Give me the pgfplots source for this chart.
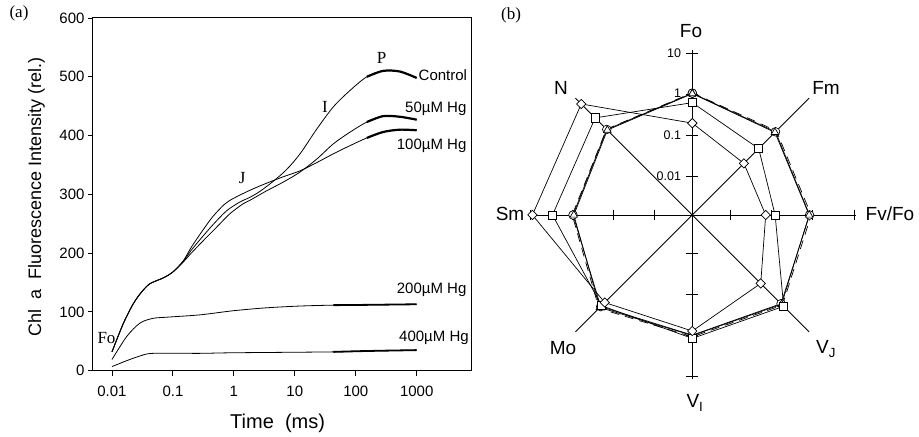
\documentclass[border=0pt]{standalone}
\usepackage{pgfplots}
\usepackage{pgfplotstable}
\pgfplotsset{compat=1.18}
\usepackage{fontspec}
\setmainfont{Liberation Sans}
\newfontfamily\seriffont{Liberation Serif}

\pgfplotstableread{
t v
0.01 32
0.0153 80
0.0224 114
0.0307 134
0.042 148
0.07 158
0.1 168
0.148 186
0.2 205
0.3 227
0.46 249
0.76 272
1.26 287
1.84 295
2.67 305
4.4 322
7.3 342
12.2 369
22.9 411
43 449
81 477
152 500
280 510
527 509
1000 498
}\ctrl

\pgfplotstableread{
t v
0.01 32
0.0153 80
0.0224 114
0.0307 134
0.042 148
0.07 158
0.1 168
0.148 185
0.2 200
0.3 219
0.52 244
0.86 267
1.42 284
1.84 290
3.45 306
6.5 321
12.2 338
22.9 360
43 386
81 406
152 423
280 433
527 432
1000 427
}\hgA

\pgfplotstableread{
t v
0.01 32
0.0153 80
0.0224 114
0.0307 134
0.042 148
0.07 158
0.1 168
0.148 187
0.2 210
0.3 237
0.45 262
0.7 283
0.98 293
1.84 307
3.45 319
6.5 330
12.2 340
22.9 354
43 369
81 383
152 396
280 406
527 410
1000 409
}\hgB

\pgfplotstableread{
t v
0.01 19
0.0174 58
0.0288 81
0.047 89
0.079 91
0.278 95
0.98 102
3.45 107
12.2 110
43 111.5
152 112
1000 113
}\hgC

\pgfplotstableread{
t v
0.01 7
0.0174 17
0.0288 25
0.047 29.5
0.278 29.5
0.98 30.5
43 32
152 33.5
1000 35
}\hgD

% radar: angle (deg), radius in decades from centre (10 at 3.935, 1 at 2.935, 0.1 at 1.935, 0.01 at 0.935)
\pgfplotstableread{
a r
90 2.97
45 2.87
0 2.86
-45 3.06
-90 2.93
-135 3.16
-180 2.91
-225 2.95
-270 2.97
}\rc

\pgfplotstableread{
a r
90 2.96
45 2.85
0 2.85
-45 3.08
-90 2.94
-135 3.19
-180 2.89
-225 2.93
-270 2.96
}\rt

\pgfplotstableread{
a r
90 2.98
45 2.90
0 2.90
-45 3.11
-90 2.97
-135 3.22
-180 2.93
-225 2.96
-270 2.98
}\rd

\pgfplotstableread{
a r
90 2.74
45 2.29
0 2.02
-45 3.15
-90 3.01
-135 3.13
-180 3.41
-225 3.35
-270 2.74
}\rs

\pgfplotstableread{
a r
90 2.24
45 1.78
0 1.79
-45 2.36
-90 2.83
-135 3.02
-180 3.90
-225 3.83
-270 2.24
}\rdi

\begin{document}
\begin{tikzpicture}[x=1bp,y=1bp]
\useasboundingbox (0,0) rectangle (919,437);

\begin{axis}[
  at={(93bp,66.3bp)}, anchor=south west,
  scale only axis, width=378.7bp, height=352.7bp,
  xmode=log, xmin=0.00488, xmax=7990, ymin=0, ymax=600,
  xtick={0.01,0.1,1,10,100,1000},
  xticklabels={0.01,0.1,1,10,100,1000},
  ytick={0,100,200,300,400,500,600},
  yticklabels={0,100,200,300,400,500,600},
  xminorticks=false, yminorticks=false,
  tick align=outside, tick pos=left,
  major tick length=5bp,
  tick style={line width=0.9bp, black},
  axis line style={line width=1bp},
  ticklabel style={font=\fontsize{15bp}{18bp}\selectfont},
  xticklabel style={yshift=-7bp},
  clip=false,
]
\addplot[black, line width=0.8bp, smooth] table[x=t,y=v] {\ctrl};
\addplot[black, line width=0.8bp, smooth] table[x=t,y=v] {\hgA};
\addplot[black, line width=0.8bp, smooth] table[x=t,y=v] {\hgB};
\addplot[black, line width=0.8bp, smooth] table[x=t,y=v] {\hgC};
\addplot[black, line width=0.8bp, smooth] table[x=t,y=v] {\hgD};
% noisy, thicker ends
\addplot[black, line width=2.2bp, smooth, skip coords between index={0}{21}] table[x=t,y=v] {\ctrl};
\addplot[black, line width=2.2bp, smooth, skip coords between index={0}{20}] table[x=t,y=v] {\hgA};
\addplot[black, line width=2.2bp, smooth, skip coords between index={0}{20}] table[x=t,y=v] {\hgB};
\addplot[black, line width=1.8bp, smooth, skip coords between index={0}{9}] table[x=t,y=v] {\hgC};
\addplot[black, line width=1.8bp, smooth, skip coords between index={0}{6}] table[x=t,y=v] {\hgD};
\end{axis}

\begin{axis}[
  at={(692.3bp,222bp)}, anchor=center,
  scale only axis, width=369bp, height=369bp,
  xmin=-4.5, xmax=4.5, ymin=-4.5, ymax=4.5,
  hide axis, clip=false,
]
% spokes
\draw[line width=0.9bp] (axis cs:-4,0) -- (axis cs:4,0);
\draw[line width=0.9bp] (axis cs:0,-4) -- (axis cs:0,4.02);
\draw[line width=0.9bp] (axis cs:-2.85,-2.85) -- (axis cs:2.85,2.85);
\draw[line width=0.9bp] (axis cs:-2.85,2.85) -- (axis cs:2.85,-2.85);
% ticks
\pgfplotsinvokeforeach{0.935,1.935,2.935,3.95}{
  \draw[line width=0.9bp] (axis cs:#1,-0.125) -- (axis cs:#1,0.125);
  \draw[line width=0.9bp] (axis cs:-#1,-0.125) -- (axis cs:-#1,0.125);
  \draw[line width=0.9bp] (axis cs:-0.145,#1) -- (axis cs:0.145,#1);
  \draw[line width=0.9bp] (axis cs:-0.145,-#1) -- (axis cs:0.145,-#1);
}
\addplot[black, line width=0.7bp, dash pattern=on 9bp off 6bp, data cs=polar] table[x=a,y=r] {\rd};
\addplot[black, line width=0.7bp, data cs=polar, mark=*, mark size=4.3bp,
  mark options={fill=white, line width=0.7bp, solid}] table[x=a,y=r] {\rc};
\addplot[black, line width=0.7bp, data cs=polar, mark=triangle*, mark size=4.3bp,
  mark options={fill=white, line width=0.7bp, solid}] table[x=a,y=r] {\rt};
\addplot[black, line width=0.7bp, data cs=polar, mark=square*, mark size=4.1bp,
  mark options={fill=white, line width=0.7bp, solid}] table[x=a,y=r] {\rs};
\addplot[black, line width=0.7bp, data cs=polar, mark=square*, mark size=3.3bp,
  mark options={fill=white, line width=0.7bp, solid, rotate=45}] table[x=a,y=r] {\rdi};
% radial tick labels
\node[anchor=east, inner sep=0pt, font=\fontsize{12.5bp}{14bp}\selectfont] at (axis cs:-0.27,3.935) {10};
\node[anchor=east, inner sep=0pt, font=\fontsize{12.5bp}{14bp}\selectfont] at (axis cs:-0.27,2.98) {1};
\node[anchor=east, inner sep=0pt, font=\fontsize{12.5bp}{14bp}\selectfont] at (axis cs:-0.27,1.935) {0.1};
\node[anchor=east, inner sep=0pt, font=\fontsize{12.5bp}{14bp}\selectfont] at (axis cs:-0.27,0.935) {0.01};
\end{axis}

% panel (a) texts
\node[font=\seriffont\fontsize{17bp}{20bp}\selectfont] at (19,424) {(a)};
\node[font=\seriffont\fontsize{17bp}{20bp}\selectfont] at (511,422) {(b)};
\begin{scope}[font=\fontsize{15bp}{18bp}\selectfont, inner sep=0pt]
\node[anchor=west] at (418.5,362) {Control};
\node[anchor=west] at (405,328) {50µM Hg};
\node[anchor=west] at (396.7,291) {100µM Hg};
\node[anchor=west] at (396.7,147) {200µM Hg};
\node[anchor=west] at (399,99.5) {400µM Hg};
\end{scope}
\begin{scope}[font=\seriffont\fontsize{17bp}{20bp}\selectfont, inner sep=0pt]
\node at (381.7,378.7) {P};
\node at (325,330.3) {I};
\node at (242.3,258.7) {J};
\node at (106.5,99) {Fo};
\end{scope}
\node[anchor=base west, inner sep=0pt, font=\fontsize{20bp}{24bp}\selectfont] at (230,8.7) {Time\ \ (ms)};
\node[anchor=base, rotate=90, inner sep=0pt, font=\fontsize{18bp}{22bp}\selectfont] at (41,240) {Chl\ \ a\ \ Fluorescence Intensity (rel.)};

% radar labels
\begin{scope}[font=\fontsize{19bp}{23bp}\selectfont, inner sep=0pt]
\node at (691,406) {Fo};
\node at (826,349.5) {Fm};
\node at (561,349.5) {N};
\node at (510,223) {Sm};
\node at (890,223) {Fv/Fo};
\node at (826,88) {V\textsubscript{J}};
\node at (695,34) {V\textsubscript{I}};
\node at (563,89) {Mo};
\end{scope}
\end{tikzpicture}
\end{document}
